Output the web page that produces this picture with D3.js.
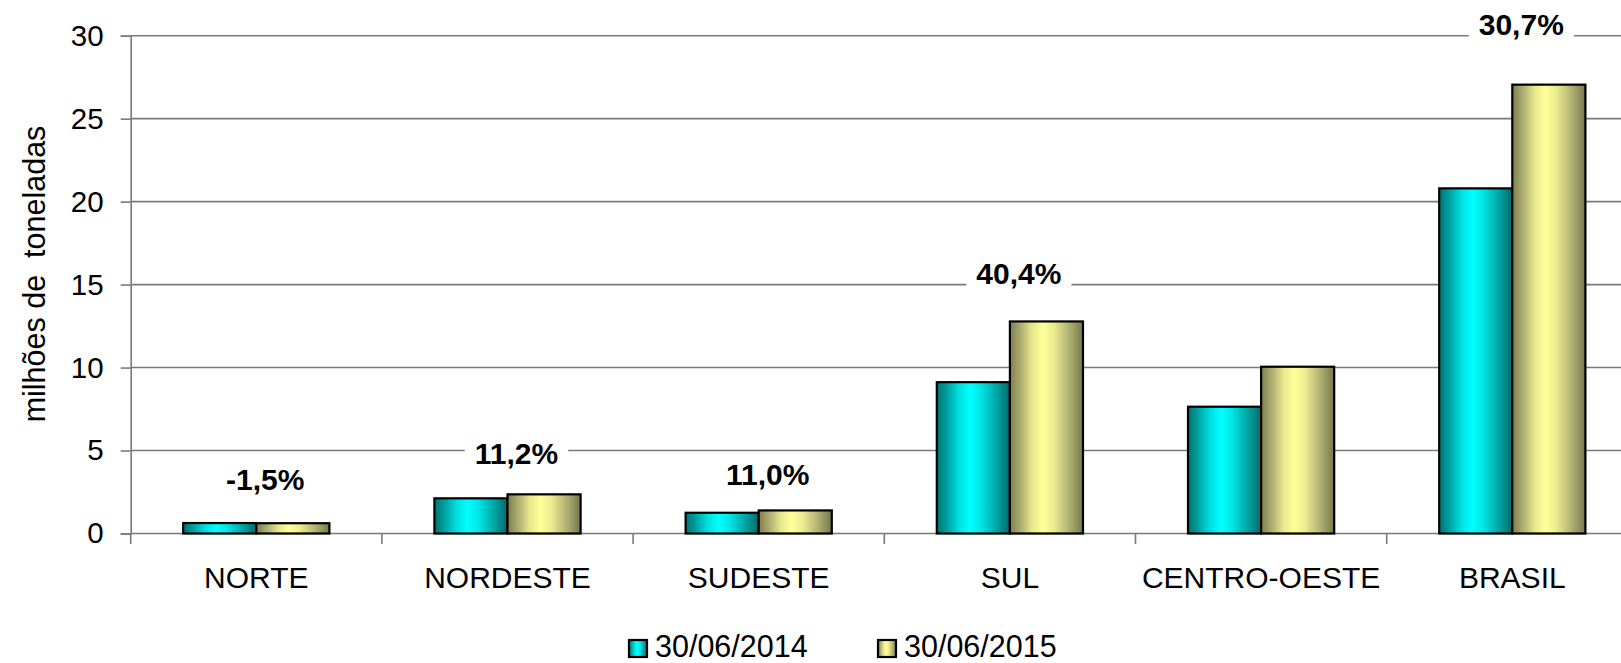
<!DOCTYPE html>
<html><head><meta charset="utf-8">
<script src="https://cdn.jsdelivr.net/npm/d3@7"></script>
<style>
html,body{margin:0;padding:0;background:#fff;overflow:hidden;}
text{font-family:"Liberation Sans",Arial,sans-serif;}
</style></head>
<body>
<svg id="c" width="1621" height="663"></svg>
<script>
const categories = ["NORTE","NORDESTE","SUDESTE","SUL","CENTRO-OESTE","BRASIL"];
const seriesNames = ["30/06/2014","30/06/2015"];
const values2014 = [0.63, 2.12, 1.25, 9.12, 7.64, 20.8];
const values2015 = [0.62, 2.36, 1.39, 12.78, 10.05, 27.05];
const changeLabels = ["-1,5%","11,2%","11,0%","40,4%",null,"30,7%"];
const changeLabelY = [2.6, 4.2, 2.9, 15.05, null, 30.05];
const yTicks = [0,5,10,15,20,25,30];

const svg = d3.select("#c");
const x0 = 130.7, step = 251.2;
const x = d3.scaleBand().domain(categories).range([x0, x0 + step*categories.length])
  .paddingInner(0.418).paddingOuter(0.209);
const xs = d3.scaleBand().domain([0,1]).range([0, x.bandwidth()]);
const y = d3.scaleLinear().domain([0,30]).range([533.5, 35.7]);

const defs = svg.append("defs");
function grad(id, stops){
  const g = defs.append("linearGradient").attr("id", id).attr("x1","0").attr("x2","1").attr("y1","0").attr("y2","0");
  stops.forEach(s => g.append("stop").attr("offset", s[0]).attr("stop-color", s[1]));
}
grad("gc", [["0%","#007373"],["12%","#009a9a"],["30%","#00dede"],["45%","#00ffff"],["60%","#00e6e6"],["80%","#00aaaa"],["100%","#006a6a"]]);
grad("gy", [["0%","#7e7e4c"],["12%","#a4a46c"],["30%","#e6e68c"],["45%","#ffff99"],["60%","#ecec90"],["80%","#b4b476"],["100%","#77774a"]]);
const fills = ["url(#gc)","url(#gy)"];

// gridlines
svg.append("g").selectAll("line").data(yTicks).join("line")
  .attr("x1", x0).attr("x2", 1621).attr("y1", d=>y(d)).attr("y2", d=>y(d))
  .attr("stroke","#7a7a7a").attr("stroke-width",1.6);

// y axis
const yAxis = d3.axisLeft(y).tickValues(yTicks).tickSize(10).tickPadding(17).tickFormat(d3.format("d"));
const ga = svg.append("g").attr("transform",`translate(${x0},0)`).call(yAxis);
ga.select(".domain").attr("stroke","#7a7a7a").attr("stroke-width",1.6);
ga.selectAll(".tick line").attr("stroke","#7a7a7a").attr("stroke-width",1.6);
ga.selectAll(".tick text").attr("font-size",29.5).attr("fill","#000").attr("font-family","Liberation Sans, Arial, sans-serif");

// x axis ticks (category boundaries)
const bounds = d3.range(categories.length+1).map(i => x0 + i*step);
svg.append("g").selectAll("line").data(bounds).join("line")
  .attr("x1", d=>d).attr("x2", d=>d).attr("y1", y(0)).attr("y2", y(0)+10.5)
  .attr("stroke","#7a7a7a").attr("stroke-width",1.6);

// category labels
svg.append("g").selectAll("text").data(categories).join("text")
  .attr("x", d => x(d) + x.bandwidth()/2).attr("y", 588)
  .attr("text-anchor","middle").attr("font-size",30).attr("fill","#000").text(d=>d);

// bars
const data = categories.map((c,i) => ({c, v:[values2014[i], values2015[i]]}));
const groups = svg.append("g").selectAll("g").data(data).join("g")
  .attr("transform", d => `translate(${x(d.c)},0)`);
groups.selectAll("rect").data(d => d.v.map((v,k)=>({v,k}))).join("rect")
  .attr("x", d => xs(d.k)).attr("width", xs.bandwidth())
  .attr("y", d => y(d.v)).attr("height", d => y(0) - y(d.v))
  .attr("fill", d => fills[d.k]).attr("stroke","#000").attr("stroke-width",2.2);

// change labels
const lab = svg.append("g");
changeLabels.forEach((t,i) => {
  if (!t) return;
  const cx = x(categories[i]) + x.bandwidth()/2 + 9;
  const g = lab.append("g");
  const r = g.append("rect").attr("fill","#fff");
  const tx = g.append("text").attr("x", cx).attr("y", y(changeLabelY[i]))
    .attr("text-anchor","middle").attr("font-size",30).attr("font-weight","bold").attr("fill","#000").text(t);
  const b = tx.node().getBBox();
  r.attr("x", b.x-10).attr("y", b.y).attr("width", b.width+20).attr("height", b.height);
});

// y title
svg.append("text").attr("transform","translate(45,274) rotate(-90)")
  .attr("text-anchor","middle").attr("font-size",30.5).attr("fill","#000")
  .attr("xml:space","preserve").style("white-space","pre").text("milhões de  toneladas");

// legend
const legX = [628, 877];
const leg = svg.append("g");
seriesNames.forEach((n,k) => {
  leg.append("rect").attr("x", legX[k]+1).attr("y", 640).attr("width", 18).attr("height", 17)
    .attr("fill", fills[k]).attr("stroke","#000").attr("stroke-width",2.2);
  leg.append("text").attr("x", legX[k]+27).attr("y", 656.5).attr("font-size",30.5).attr("fill","#000").text(n);
});
</script>
</body></html>
